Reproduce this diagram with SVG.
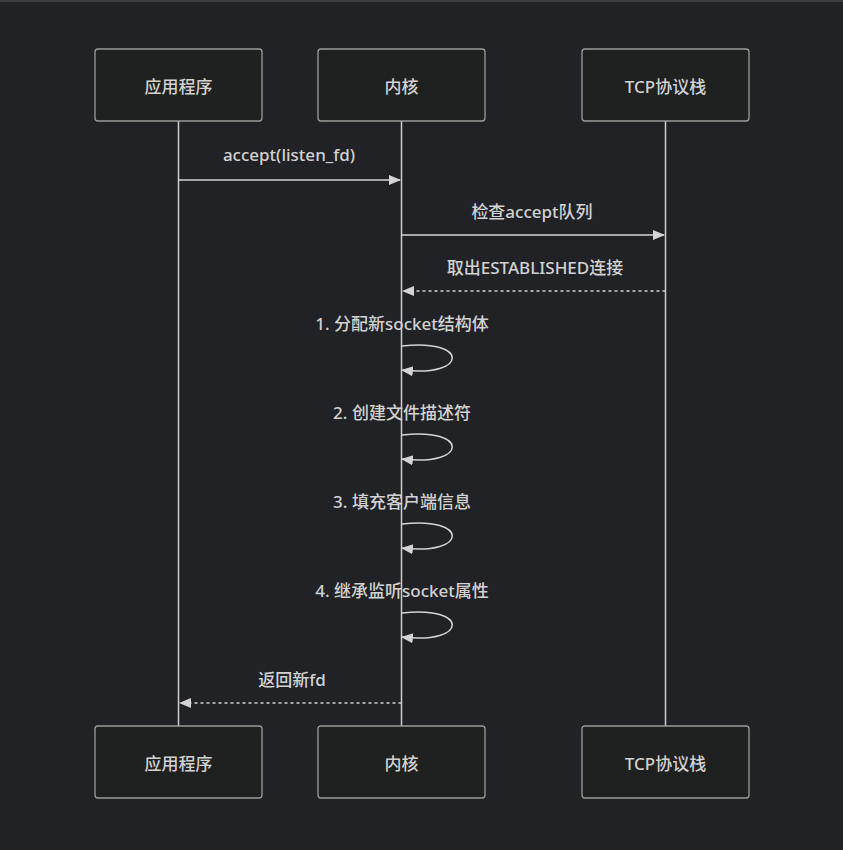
<svg xmlns="http://www.w3.org/2000/svg" width="843" height="850" viewBox="0 0 843 850">
<style>
.bg{fill:#212226}
.actor{fill:#1f2020;stroke:#9b9b9b;stroke-width:1.3}
.life{stroke:#cfcfcf;stroke-width:1.5;fill:none}
.msg{stroke:#d4d4d4;stroke-width:1.5;fill:none}
.dash{stroke-dasharray:3,3}
text{font-family:"Noto Sans","Noto Sans CJK SC",sans-serif;font-size:17px;font-weight:500;fill:#d2d2d2;text-anchor:middle}
.at{dominant-baseline:central}
</style>
<defs>
<marker id="ah" markerWidth="12" markerHeight="12" refX="11" refY="5" orient="auto" markerUnits="userSpaceOnUse">
<path d="M0,0 L12,5 L0,10 z" fill="#d4d4d4"/>
</marker>
</defs>
<rect class="bg" x="0" y="0" width="843" height="850"/>
<rect x="0" y="0" width="843" height="2" fill="#3d3e43"/>
<g id="lifelines">
<line class="life" x1="178.5" y1="121" x2="178.5" y2="726"/>
<line class="life" x1="401.5" y1="121" x2="401.5" y2="726"/>
<line class="life" x1="665.5" y1="121" x2="665.5" y2="726"/>
</g>
<g id="actor-app-top"><rect class="actor" x="95" y="49" width="167" height="72" rx="3"/><text class="at" x="178.5" y="86">应用程序</text></g>
<g id="actor-kernel-top"><rect class="actor" x="318" y="49" width="167" height="72" rx="3"/><text class="at" x="401.5" y="86">内核</text></g>
<g id="actor-tcp-top"><rect class="actor" x="582" y="49" width="167" height="72" rx="3"/><text class="at" x="665.5" y="86">TCP协议栈</text></g>
<g id="actor-app-bottom"><rect class="actor" x="95" y="726" width="167" height="72" rx="3"/><text class="at" x="178.5" y="763">应用程序</text></g>
<g id="actor-kernel-bottom"><rect class="actor" x="318" y="726" width="167" height="72" rx="3"/><text class="at" x="401.5" y="763">内核</text></g>
<g id="actor-tcp-bottom"><rect class="actor" x="582" y="726" width="167" height="72" rx="3"/><text class="at" x="665.5" y="763">TCP协议栈</text></g>
<g id="connectors">
<line class="msg" x1="178.5" y1="180" x2="400" y2="180" marker-end="url(#ah)"/>
<text x="289" y="161">accept(listen_fd)</text>
<line class="msg" x1="401.5" y1="235" x2="664" y2="235" marker-end="url(#ah)"/>
<text x="532" y="218">检查accept队列</text>
<line class="msg dash" x1="665.5" y1="291" x2="403" y2="291" marker-end="url(#ah)"/>
<text x="535" y="274">取出ESTABLISHED连接</text>
<path class="msg" d="M402,346 C469,338 469,378 402,370" marker-end="url(#ah)"/>
<text x="402" y="330">1. 分配新socket结构体</text>
<path class="msg" d="M402,435 C469,427 469,467 402,459" marker-end="url(#ah)"/>
<text x="402" y="419">2. 创建文件描述符</text>
<path class="msg" d="M402,524 C469,516 469,556 402,548" marker-end="url(#ah)"/>
<text x="402" y="508">3. 填充客户端信息</text>
<path class="msg" d="M402,613 C469,605 469,645 402,637" marker-end="url(#ah)"/>
<text x="402" y="597">4. 继承监听socket属性</text>
<line class="msg dash" x1="401.5" y1="703" x2="180" y2="703" marker-end="url(#ah)"/>
<text x="292" y="686">返回新fd</text>
</g>
</svg>
